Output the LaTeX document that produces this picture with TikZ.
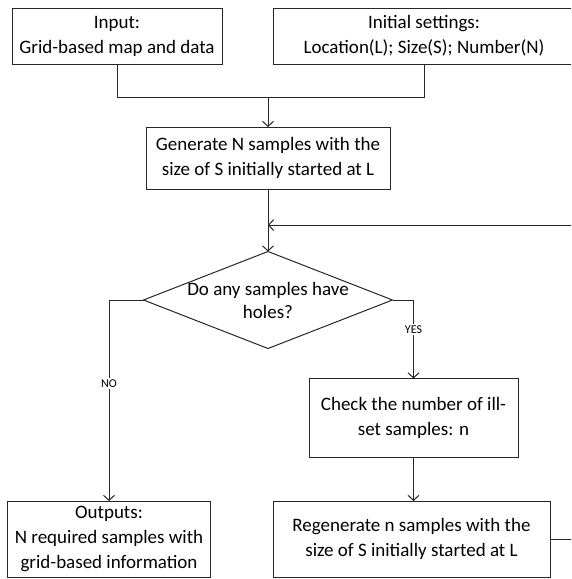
\documentclass[tikz,border=0pt]{standalone}
\usepackage{fontspec}
\setmainfont{Carlito}
\usetikzlibrary{arrows.meta,shapes.geometric}
\begin{document}
\begin{tikzpicture}[x=1pt,y=-1pt,
  box/.style={draw=black!85, line width=1pt, align=center, inner sep=0pt, outer sep=0pt,
              font=\fontsize{19}{25}\selectfont},
  dia/.style={diamond, draw=black!85, line width=1pt, inner sep=0pt, outer sep=0pt,
              minimum width=249pt, minimum height=97pt},
  txt/.style={align=center, inner sep=0pt, font=\fontsize{19}{23}\selectfont},
  conn/.style={line width=1pt, draw=black!85},
  arr/.style={conn, -{Straight Barb[length=5pt,width=11pt,line width=1pt]}},
  lab/.style={fill=white, inner sep=1.5pt, font=\fontsize{12}{12}\selectfont}]
\useasboundingbox (0,0) rectangle (571,579);
\clip (0,0) rectangle (571,579);

\node[box, minimum width=210pt, minimum height=56pt] (inp) at (117,36)
  {Input:\\Grid-based map and data};
\node[box, minimum width=302pt, minimum height=56pt] (init) at (424,36)
  {Initial settings:\\Location(L); Size(S); Number(N)};
\node[box, minimum width=244pt, minimum height=62pt] (gen) at (268,158)
  {Generate N samples with the\\size of S initially started at L};
\node[dia] (d) at (268,300) {};
\node[txt] (dtxt) at (d.center) {Do any samples have\\holes?};
\node[box, minimum width=209pt, minimum height=79pt] (chk) at (413.5,418)
  {Check the number of ill-\\set samples: n};
\node[box, minimum width=203pt, minimum height=76pt] (out) at (109,539)
  {Outputs:\\N required samples with\\grid-based information};
\node[box, minimum width=277pt, minimum height=76pt] (regen) at (411.5,539)
  {Regenerate n samples with the\\size of S initially started at L};

\coordinate (j) at (268,97);
\coordinate (fb) at (268,225);

\draw[conn] (inp.south) |- (j);
\draw[conn] (init.south) |- (j);
\draw[arr] (j) -- (gen.north);
\draw[arr] (gen.south) -- (d.north);
\draw[arr] (regen.east) -- ++(40,0) |- (fb);
\draw[arr] (d.west) -| node[lab, pos=0.707] {NO} (out.north);
\draw[arr] (d.east) -| node[lab, pos=0.686] {YES} (chk.north);
\draw[arr] (chk.south) -- (chk.south |- regen.north);
\end{tikzpicture}
\end{document}
